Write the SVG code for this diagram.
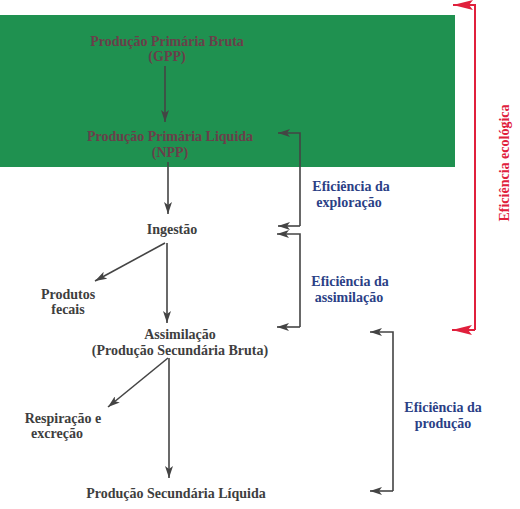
<svg xmlns="http://www.w3.org/2000/svg" width="520" height="509" viewBox="0 0 520 509">
<defs>
<marker id="ah" viewBox="0 0 12 8" refX="12" refY="4" markerWidth="12" markerHeight="8" markerUnits="userSpaceOnUse" orient="auto">
<path d="M0,0 L12,4 L0,8 L3,4 Z" fill="#444"/>
</marker>
<marker id="ahr" viewBox="0 0 20 10" refX="20" refY="5" markerWidth="20" markerHeight="10" markerUnits="userSpaceOnUse" orient="auto">
<path d="M0,0 L20,5 L0,10 L4,5 Z" fill="#e0203c"/>
</marker>
<style>
.t{font-weight:bold;font-size:14px;text-anchor:middle;fill:#3e3e3e}
.g{fill:#6a3f4a}
.b{fill:#2b3f86}
.r{fill:#e0203c}
.c{fill:none;stroke:#444;stroke-width:1.6}
.cr{fill:none;stroke:#e0203c;stroke-width:2}
</style>
</defs>
<rect id="green-band" x="0" y="15" width="455" height="152" fill="#1f9150"/>
<g id="connectors">
<line class="c" x1="165" y1="66" x2="165" y2="122" marker-end="url(#ah)"/>
<line class="c" x1="168" y1="162" x2="168" y2="214" marker-end="url(#ah)"/>
<line class="c" x1="165" y1="243" x2="95" y2="281" marker-end="url(#ah)"/>
<line class="c" x1="167" y1="243" x2="167" y2="323" marker-end="url(#ah)"/>
<line class="c" x1="168" y1="358" x2="108" y2="407" marker-end="url(#ah)"/>
<line class="c" x1="169" y1="358" x2="169" y2="478" marker-end="url(#ah)"/>
<polyline class="c" points="300,226 300,133 278,133" marker-end="url(#ah)"/>
<line class="c" x1="300" y1="226" x2="278" y2="226" marker-end="url(#ah)"/>
<polyline class="c" points="300,327 300,234 277,234" marker-end="url(#ah)"/>
<line class="c" x1="300" y1="327" x2="277" y2="327" marker-end="url(#ah)"/>
<polyline class="c" points="393,491 393,332 370,332" marker-end="url(#ah)"/>
<line class="c" x1="393" y1="491" x2="370" y2="491" marker-end="url(#ah)"/>
<polyline class="cr" points="475,330 475,5 453,5" marker-end="url(#ahr)"/>
<line class="cr" x1="475" y1="330" x2="452" y2="330" marker-end="url(#ahr)"/>
</g>
<g font-family="Liberation Serif, DejaVu Serif, serif">
<g id="gpp"><text class="t g" x="167" y="46">Produção Primária Bruta</text><text class="t g" x="167" y="61">(GPP)</text></g>
<g id="npp"><text class="t g" x="170" y="141">Produção Primária Liquida</text><text class="t g" x="170" y="157">(NPP)</text></g>
<g id="ingestao"><text class="t" x="172" y="234">Ingestão</text></g>
<g id="fecais"><text class="t" x="68" y="299">Produtos</text><text class="t" x="68" y="314">fecais</text></g>
<g id="assimilacao"><text class="t" x="180" y="339">Assimilação</text><text class="t" x="180" y="355">(Produção Secundária Bruta)</text></g>
<g id="respiracao"><text class="t" x="63" y="423">Respiração e</text><text class="t" x="57" y="438">excreção</text></g>
<g id="psl"><text class="t" x="176" y="498">Produção Secundária Líquida</text></g>
<g id="ef-exploracao"><text class="t b" x="351" y="191">Eficiência da</text><text class="t b" x="349" y="207">exploração</text></g>
<g id="ef-assimilacao"><text class="t b" x="350" y="286">Eficiência da</text><text class="t b" x="349" y="302">assimilação</text></g>
<g id="ef-producao"><text class="t b" x="443" y="412">Eficiência da</text><text class="t b" x="443" y="428">produção</text></g>
<g id="ef-ecologica"><text class="t r" transform="translate(509,163) rotate(-90)" x="0" y="0">Eficiência ecológica</text></g>
</g>
</svg>
